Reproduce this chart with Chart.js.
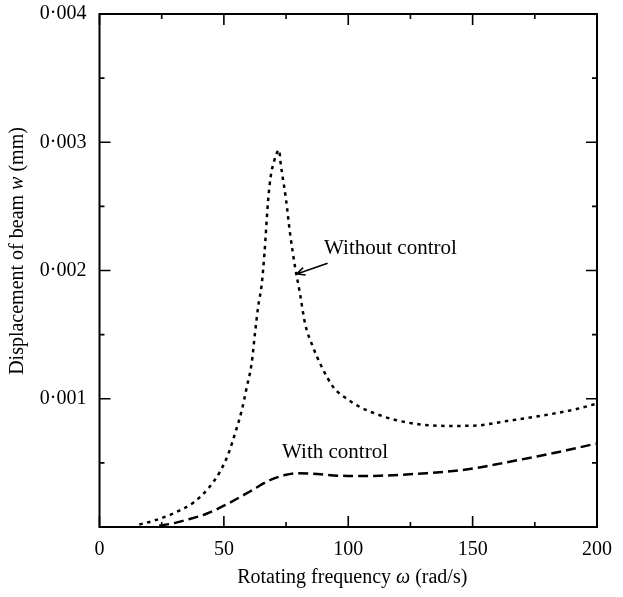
<!DOCTYPE html>
<html><head><meta charset="utf-8">
<script src="https://cdn.jsdelivr.net/npm/chart.js@4/dist/chart.umd.min.js"></script>
<style>html,body{margin:0;padding:0;background:#fff}#wrap{width:623px;height:597px;position:relative}</style>
</head><body><div id="wrap"><canvas id="c"></canvas></div>
<script>
// ---- data ----
const withoutOmega = [16, 22, 29, 37.7, 43.7, 48.4, 51.8, 54.5, 57.2, 59.2, 61.2, 62.5, 63.8, 65.2, 66.3, 67.8, 68.8, 70.3, 72.2, 72.8, 75, 76.6, 78.6, 80.6, 82.6, 85.9, 89.3, 94, 99.4, 104.7, 112, 119.5, 128.8, 139.6, 150.3, 165, 178.4, 191.8, 199.5];
const withoutW = [0.00002, 0.00005, 0.0001, 0.00019, 0.0003, 0.00043, 0.00057, 0.00073, 0.00091, 0.00109, 0.00128, 0.00151, 0.00172, 0.00189, 0.00213, 0.00255, 0.00273, 0.00286, 0.00294, 0.00284, 0.00255, 0.00229, 0.00203, 0.00182, 0.00159, 0.0014, 0.00125, 0.00109, 0.001, 0.000936, 0.000876, 0.000832, 0.0008, 0.000788, 0.00079, 0.00083, 0.00087, 0.00092, 0.00096];
const withOmega = [24, 30, 35, 43, 51, 60.5, 68.5, 74.5, 79.5, 86, 94, 103.4, 112.8, 122.1, 131.5, 142.2, 151.6, 161, 174.4, 187.8, 199.5];
const withW = [0.00001, 0.00003, 0.000056, 0.000103, 0.000176, 0.000277, 0.000365, 0.000405, 0.00042, 0.000415, 0.000402, 0.000397, 0.0004, 0.000408, 0.00042, 0.000436, 0.00046, 0.000494, 0.000545, 0.000598, 0.00065];
const xTickLabels = ['0', '50', '100', '150', '200'];
const yTickLabels = ['0·001', '0·002', '0·003', '0·004'];
const xAxisTitle = [['Rotating frequency ', false], ['ω', true], [' (rad/s)', false]];
const yAxisTitle = [['Displacement of beam ', false], ['w', true], [' (mm)', false]];
const labelWithout = 'Without control';
const labelWith = 'With control';

const FONT = '"Liberation Serif", "Times New Roman", serif';
const FS = 20;
const FS_ANN = 21;

function toPts(xs, ys) { return xs.map((x, i) => ({ x: x, y: ys[i] })); }

function drawRich(ctx, parts, x, y) {
  const widths = parts.map(p => { ctx.font = (p[1] ? 'italic ' : '') + FS + 'px ' + FONT; return ctx.measureText(p[0]).width; });
  const total = widths.reduce((a, b) => a + b, 0);
  let cx = x - total / 2;
  ctx.textAlign = 'left';
  ctx.textBaseline = 'middle';
  parts.forEach((p, i) => { ctx.font = (p[1] ? 'italic ' : '') + FS + 'px ' + FONT; ctx.fillText(p[0], cx, y); cx += widths[i]; });
}

const framePlugin = {
  id: 'frame',
  afterDraw(chart) {
    const ctx = chart.ctx, a = chart.chartArea;
    const xs = chart.scales.x, ys = chart.scales.y;
    ctx.save();
    ctx.strokeStyle = '#000';
    ctx.lineWidth = 2;
    ctx.strokeRect(a.left, a.top, a.right - a.left, a.bottom - a.top);
    ctx.lineWidth = 1.6;
    ctx.beginPath();
    xs.ticks.forEach(t => {
      const px = xs.getPixelForValue(t.value);
      const len = (Math.round(t.value) % 50 === 0) ? 11 : 5;
      ctx.moveTo(px, a.bottom); ctx.lineTo(px, a.bottom - len);
      ctx.moveTo(px, a.top); ctx.lineTo(px, a.top + len);
    });
    ys.ticks.forEach(t => {
      const py = ys.getPixelForValue(t.value);
      const k = Math.round(t.value / 0.0005);
      const len = (k % 2 === 0) ? 11 : 5;
      ctx.moveTo(a.left, py); ctx.lineTo(a.left + len, py);
      ctx.moveTo(a.right, py); ctx.lineTo(a.right - len, py);
    });
    ctx.stroke();

    // axis titles
    ctx.fillStyle = '#000';
    drawRich(ctx, xAxisTitle, (a.left + a.right) / 2 + 4, 578);
    ctx.save();
    ctx.translate(18, 251);
    ctx.rotate(-Math.PI / 2);
    drawRich(ctx, yAxisTitle, 0, 0);
    ctx.restore();

    // annotations
    ctx.font = FS_ANN + 'px ' + FONT;
    ctx.textAlign = 'left';
    ctx.textBaseline = 'middle';
    ctx.fillText(labelWithout, xs.getPixelForValue(90.3), ys.getPixelForValue(0.002168));
    ctx.fillText(labelWith, xs.getPixelForValue(73.4), ys.getPixelForValue(0.000582));

    // arrow
    const x1 = xs.getPixelForValue(91.7), y1 = ys.getPixelForValue(0.002056);
    const x2 = xs.getPixelForValue(79.3), y2 = ys.getPixelForValue(0.001973);
    const ang = Math.atan2(y2 - y1, x2 - x1);
    ctx.lineWidth = 1.5;
    ctx.beginPath();
    ctx.moveTo(x1, y1); ctx.lineTo(x2, y2);
    const hl = 9, ha = 0.45;
    ctx.moveTo(x2 - hl * Math.cos(ang - ha), y2 - hl * Math.sin(ang - ha));
    ctx.lineTo(x2, y2);
    ctx.lineTo(x2 - hl * Math.cos(ang + ha), y2 - hl * Math.sin(ang + ha));
    ctx.stroke();
    ctx.restore();
  }
};

new Chart(document.getElementById('c'), {
  type: 'line',
  data: {
    datasets: [
      { label: labelWithout, data: toPts(withoutOmega, withoutW), borderColor: '#000', borderWidth: 2.5, borderDash: [3.5, 4.5], pointRadius: 0, cubicInterpolationMode: 'monotone', fill: false },
      { label: labelWith, data: toPts(withOmega, withW), borderColor: '#000', borderWidth: 2.5, borderDash: [10, 5], pointRadius: 0, cubicInterpolationMode: 'monotone', fill: false }
    ]
  },
  options: {
    responsive: true,
    maintainAspectRatio: false,
    animation: false,
    layout: { padding: { top: 14, right: 26, left: 0, bottom: 0 } },
    plugins: { legend: { display: false }, tooltip: { enabled: false } },
    scales: {
      x: {
        type: 'linear', min: 0, max: 200,
        grid: { display: false, drawTicks: false },
        border: { display: false },
        ticks: {
          stepSize: 25, autoSkip: false, maxRotation: 0, padding: 11, color: '#000',
          font: { family: FONT, size: FS },
          callback: v => (Math.round(v) % 50 === 0 ? xTickLabels[Math.round(v) / 50] : '')
        },
        afterFit: s => { s.height = 70; s.paddingLeft = 0; s.paddingRight = 0; }
      },
      y: {
        type: 'linear', min: 0, max: 0.004,
        grid: { display: false, drawTicks: false },
        border: { display: false },
        ticks: {
          stepSize: 0.0005, autoSkip: false, padding: 13, color: '#000',
          font: { family: FONT, size: FS },
          callback: v => { const k = Math.round(v / 0.0005); return (k % 2 === 0 && k > 0) ? yTickLabels[k / 2 - 1] : ''; }
        },
        afterFit: s => { s.width = 99.5; s.paddingTop = 0; s.paddingBottom = 0; }
      }
    }
  },
  plugins: [framePlugin]
});
</script></body></html>
